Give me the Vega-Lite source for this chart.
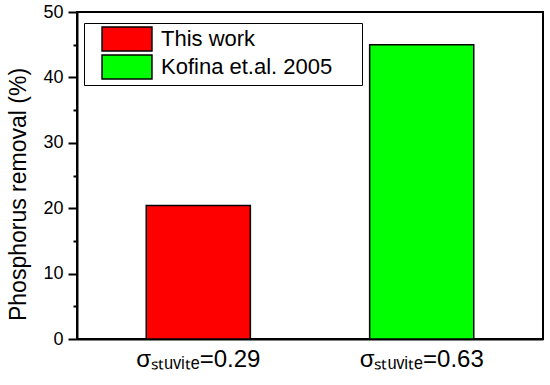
{
  "$schema": "https://vega.github.io/schema/vega-lite/v6.json",
  "autosize": {"type": "none"},
  "padding": {"left": 77, "top": 12, "right": 7, "bottom": 46},
  "width": 466,
  "height": 327,
  "background": "white",
  "config": {
    "view": {"stroke": "black", "strokeWidth": 2},
    "font": "Liberation Sans"
  },
  "data": {
    "values": [
      {"sigma": "0.29", "source": "This work", "removal": 20.4},
      {"sigma": "0.63", "source": "Kofina et.al. 2005", "removal": 45.0}
    ]
  },
  "mark": {"type": "bar", "stroke": "black", "strokeWidth": 1.5},
  "encoding": {
    "x": {
      "field": "sigma",
      "type": "nominal",
      "sort": ["0.29", "0.63"],
      "scale": {"paddingInner": 0.534, "paddingOuter": 0.31},
      "axis": {
        "title": null,
        "labelAngle": 0,
        "ticks": false,
        "domainColor": "black",
        "domainWidth": 2,
        "labelFont": "Liberation Sans",
        "labelFontSize": 24,
        "labelColor": "black",
        "labelPadding": 8,
        "labelExpr": "'σₛₜᵤᵥᵢₜₑ=' + datum.label"
      }
    },
    "y": {
      "field": "removal",
      "type": "quantitative",
      "scale": {"domain": [0, 50], "nice": false},
      "axis": {
        "title": "Phosphorus removal (%)",
        "titleFont": "Liberation Sans",
        "titleFontSize": 23,
        "titleFontWeight": "normal",
        "titleColor": "black",
        "titleAngle": -90,
        "titleAlign": "center",
        "titleBaseline": "alphabetic",
        "titleX": -52,
        "titleY": 182,
        "values": [0, 5, 10, 15, 20, 25, 30, 35, 40, 45, 50],
        "grid": false,
        "domainColor": "black",
        "domainWidth": 2,
        "tickColor": "black",
        "tickWidth": 2,
        "tickSize": {"condition": {"test": "datum.value % 10 === 0", "value": 9}, "value": 4},
        "labelExpr": "datum.value % 10 === 0 ? datum.label : ''",
        "labelFont": "Liberation Sans",
        "labelFontSize": 18,
        "labelColor": "black",
        "labelPadding": 5
      }
    },
    "color": {
      "field": "source",
      "type": "nominal",
      "scale": {"domain": ["This work", "Kofina et.al. 2005"], "range": ["#ff0000", "#00ff00"]},
      "legend": {
        "title": "\u2800",
        "titleOrient": "right",
        "titlePadding": 24,
        "titleFontSize": 4,
        "orient": "none",
        "legendX": 7,
        "legendY": 11,
        "strokeColor": "black",
        "fillColor": "white",
        "padding": 3,
        "symbolType": "M-2.08,-1H2.08V1H-2.08Z",
        "symbolSize": 576,
        "symbolStrokeColor": "black",
        "symbolStrokeWidth": 1.5,
        "symbolOffset": 27,
        "labelOffset": 21,
        "labelFont": "Liberation Sans",
        "labelFontSize": 22,
        "labelColor": "black",
        "labelLimit": 400,
        "rowPadding": -3
      }
    }
  }
}
